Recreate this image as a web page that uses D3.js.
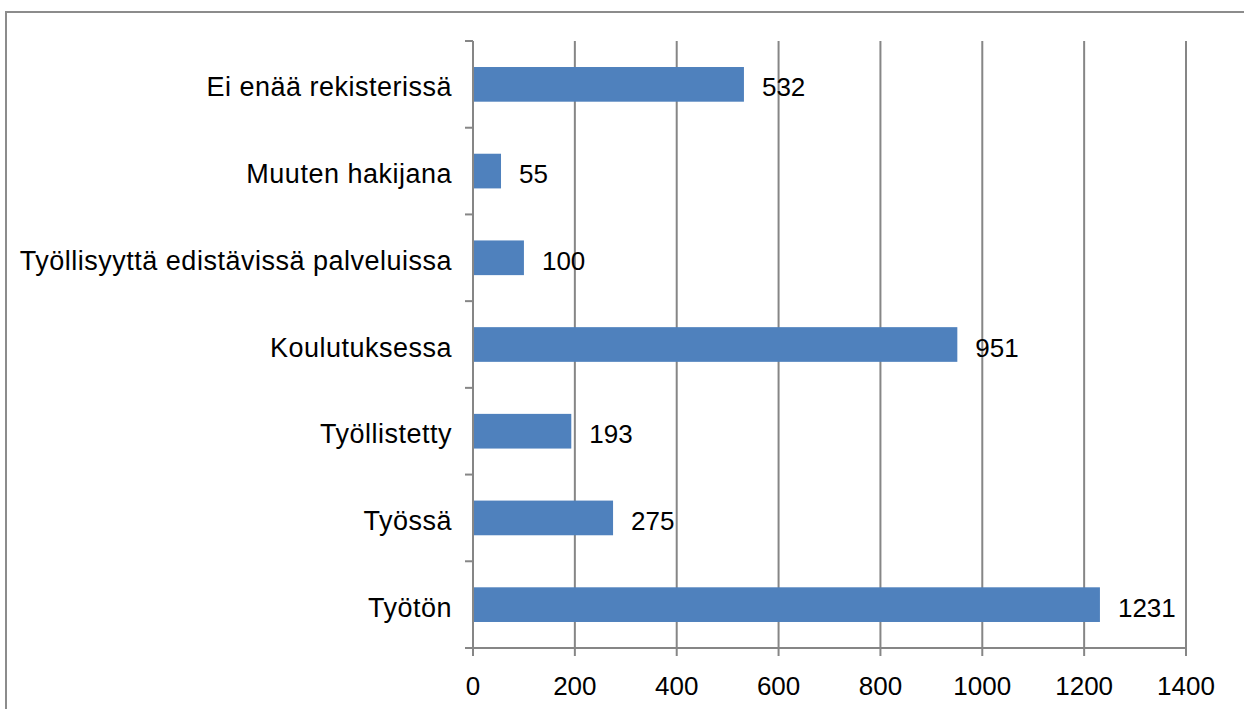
<!DOCTYPE html>
<html><head><meta charset="utf-8">
<script src="https://cdn.jsdelivr.net/npm/d3@7"></script>
<style>
html,body{margin:0;padding:0;background:#fff;}
svg{display:block;font-family:"Liberation Sans",Arial,sans-serif;}
</style></head>
<body><svg id="c" width="1244" height="709"></svg>
<script>
const categories = ["Ei enää rekisterissä","Muuten hakijana","Työllisyyttä edistävissä palveluissa","Koulutuksessa","Työllistetty","Työssä","Työtön"];
const values = [532,55,100,951,193,275,1231];
const xTicks = [0,200,400,600,800,1000,1200,1400];

const svg = d3.select("#c");
const pLeft = 473, pRight = 1186, pTop = 41, pBottom = 648;
const gray = "#868686";

// outer border (left and top visible)
svg.append("path").attr("d","M6,720 L6,12 L1250,12").attr("fill","none").attr("stroke","#8c8c8c").attr("stroke-width",2);

const x = d3.scaleLinear().domain([0,1400]).range([pLeft,pRight]);
const y = d3.scaleBand().domain(categories).range([pTop,pBottom]).paddingInner(0.6).paddingOuter(0.3);
const yb = d3.scaleLinear().domain([0,categories.length]).range([pTop,pBottom]);

// gridlines
svg.append("g").selectAll("line").data(xTicks.filter(d=>d>0)).join("line")
  .attr("x1",d=>x(d)).attr("x2",d=>x(d)).attr("y1",pTop).attr("y2",pBottom)
  .attr("stroke",gray).attr("stroke-width",2);

// bars
svg.append("g").selectAll("rect").data(values).join("rect")
  .attr("x",x(0)).attr("y",(d,i)=>y(categories[i])).attr("width",d=>x(d)-x(0)).attr("height",y.bandwidth())
  .attr("fill","#4F81BD");

// x axis
svg.append("line").attr("x1",pLeft).attr("x2",pRight).attr("y1",pBottom).attr("y2",pBottom).attr("stroke",gray).attr("stroke-width",2);
svg.append("g").selectAll("line").data(xTicks).join("line")
  .attr("x1",d=>x(d)).attr("x2",d=>x(d)).attr("y1",pBottom).attr("y2",pBottom+8).attr("stroke",gray).attr("stroke-width",2);
svg.append("g").selectAll("text").data(xTicks).join("text")
  .attr("x",d=>x(d)).attr("y",695).attr("text-anchor","middle").attr("font-size",26).attr("fill","#000").text(d=>d);

// y axis
svg.append("line").attr("x1",pLeft).attr("x2",pLeft).attr("y1",pTop).attr("y2",pBottom).attr("stroke",gray).attr("stroke-width",2);
svg.append("g").selectAll("line").data(d3.range(categories.length+1)).join("line")
  .attr("x1",pLeft-8).attr("x2",pLeft).attr("y1",d=>yb(d)).attr("y2",d=>yb(d)).attr("stroke",gray).attr("stroke-width",2);
svg.append("g").selectAll("text").data(categories).join("text")
  .attr("x",452).attr("y",d=>y(d)+y.bandwidth()/2+12).attr("text-anchor","end").attr("font-size",27)
  .attr("letter-spacing","0.5px").attr("fill","#000").text(d=>d);

// value labels
svg.append("g").selectAll("text").data(values).join("text")
  .attr("x",d=>x(d)+18).attr("y",(d,i)=>y(categories[i])+y.bandwidth()/2+12).attr("font-size",26).attr("fill","#000").text(d=>d);
</script></body></html>
